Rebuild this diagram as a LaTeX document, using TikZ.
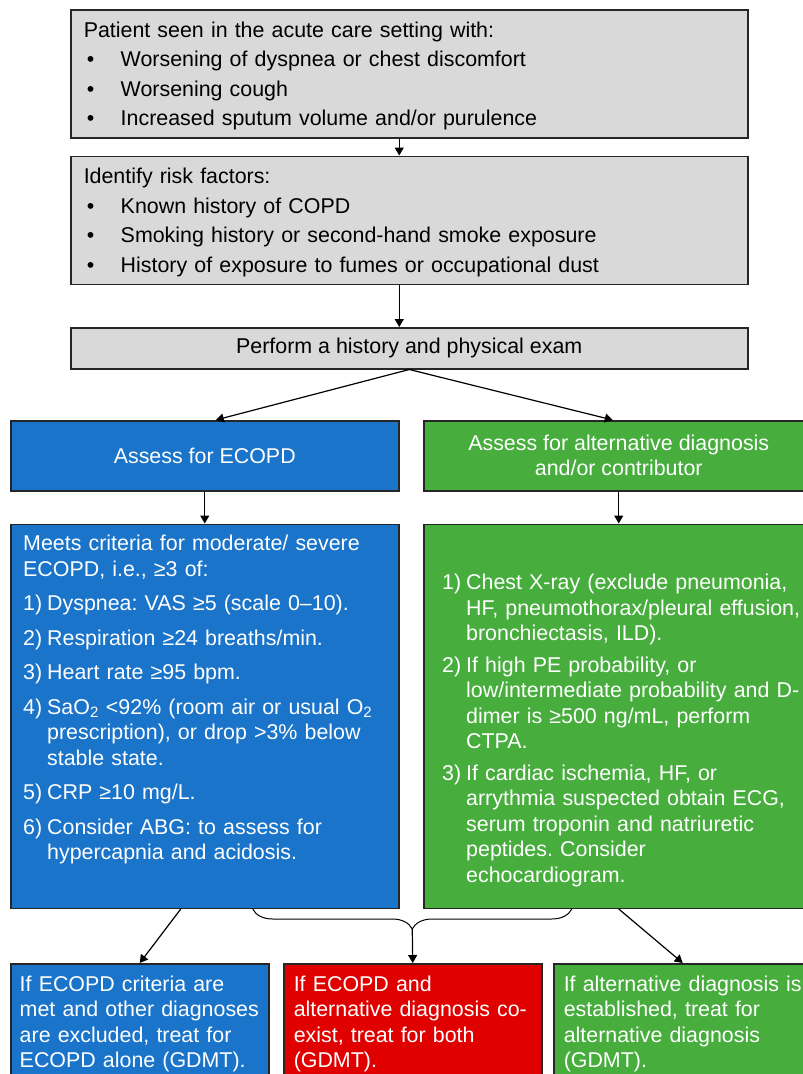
\documentclass[tikz,border=0pt]{standalone}
\usepackage{fontspec}
\setmainfont{Liberation Sans}
\usepackage{tikz}
\usetikzlibrary{positioning}
\usetikzlibrary{calc}
\usetikzlibrary{arrows.meta}
\usetikzlibrary{decorations.pathreplacing}

\definecolor{boxgrey}{RGB}{217,217,217}
\definecolor{ecopdblue}{RGB}{26,116,202}
\definecolor{altgreen}{RGB}{71,174,62}
\definecolor{bothred}{RGB}{224,0,0}

\newcommand{\bulletlbl}{\makebox[37pt][l]{\hspace*{3pt}\textbullet}}
\newcommand{\numlbl}[1]{\makebox[24pt][l]{#1}}
\newcommand{\numpad}{\hspace*{24pt}}
\frenchspacing
\hyphenpenalty=10000
\exhyphenpenalty=10000

\begin{document}
\begin{tikzpicture}[
	x=1pt, y=-1pt,
	box/.style={draw=black!85, line width=1.5pt, inner xsep=13pt, inner ysep=0pt},
	greybox/.style={box, fill=boxgrey, minimum width=677pt, font=\fontsize{21.4}{29.5}\selectfont},
	bluebox/.style={box, fill=ecopdblue, text=white},
	greenbox/.style={box, fill=altgreen, text=white},
	redbox/.style={box, fill=bothred, text=white},
	bodytext/.style={inner sep=0pt, align=left, text=white, font=\fontsize{21.4}{25.5}\selectfont},
	flow/.style={line width=1.2pt, -{Triangle[length=8pt,width=9pt]}}
]
\useasboundingbox (0,0) rectangle (803,1074);

\node[
	greybox,
	anchor=north west,
	minimum height=128pt,
	text width=651pt,
	align=left
] (present) at (70,9) {\rule{0pt}{20pt}Patient seen in the acute care setting with:\\
	\bulletlbl Worsening of dyspnea or chest discomfort\\
	\bulletlbl Worsening cough\\
	\bulletlbl Increased sputum volume and/or purulence};

\node[
	greybox,
	below=17pt of present,
	minimum height=128pt,
	text width=651pt,
	align=left
] (risk) {\rule{0pt}{20pt}Identify risk factors:\\
	\bulletlbl Known history of COPD\\
	\bulletlbl Smoking history or second-hand smoke exposure\\
	\bulletlbl History of exposure to fumes or occupational dust};

\node[
	greybox,
	below=42pt of risk,
	minimum height=41pt
] (exam) {Perform a history and physical exam};

\node[
	bluebox,
	anchor=north west,
	minimum width=388pt,
	minimum height=70pt,
	font=\fontsize{21.4}{25}\selectfont
] (assessA) at (10,420) {Assess for ECOPD};

\node[
	greenbox,
	anchor=north west,
	minimum width=390pt,
	minimum height=70pt,
	align=center,
	font=\fontsize{21.4}{25}\selectfont
] (assessB) at (423,420) {Assess for alternative diagnosis\\and/or contributor};

\node[
	bluebox,
	below=32pt of assessA,
	minimum width=388pt,
	minimum height=384pt
] (crit) {};

\node[
	greenbox,
	below=32pt of assessB,
	minimum width=390pt,
	minimum height=384pt
] (alt) {};

\node[bodytext, text width=362pt, anchor=north west] (critText)
	at ([shift={(13,11.4)}]crit.north west) {Meets criteria for moderate/ severe\\
	ECOPD, i.e., ≥3 of:\\[9pt]
	\numlbl{1)}Dyspnea: VAS ≥5 (scale 0–10).\\[9pt]
	\numlbl{2)}Respiration ≥24 breaths/min.\\[9pt]
	\numlbl{3)}Heart rate ≥95 bpm.\\[9pt]
	\numlbl{4)}SaO\textsubscript{2} <92\% (room air or usual O\textsubscript{2}\\
	\numpad prescription), or drop >3\% below\\
	\numpad stable state.\\[9pt]
	\numlbl{5)}CRP ≥10 mg/L.\\[9pt]
	\numlbl{6)}Consider ABG: to assess for\\
	\numpad hypercapnia and acidosis.};

\node[bodytext, text width=366pt, anchor=north west] (altText)
	at ([shift={(19,50.4)}]alt.north west) {\numlbl{1)}Chest X-ray (exclude pneumonia,\\
	\numpad HF, pneumothorax/pleural effusion,\\
	\numpad bronchiectasis, ILD).\\[6pt]
	\numlbl{2)}If high PE probability, or\\
	\numpad low/intermediate probability and D-\\
	\numpad dimer is ≥500 ng/mL, perform\\
	\numpad CTPA.\\[6pt]
	\numlbl{3)}If cardiac ischemia, HF, or\\
	\numpad arrythmia suspected obtain ECG,\\
	\numpad serum troponin and natriuretic\\
	\numpad peptides. Consider\\
	\numpad echocardiogram.};

\node[
	bluebox,
	anchor=north west,
	text width=240pt,
	inner xsep=9pt,
	inner ysep=12pt,
	align=left,
	font=\fontsize{21.4}{25.5}\selectfont
] (ecopdOnly) at (10,963) {If ECOPD criteria are\\
	met and other diagnoses\\
	are excluded, treat for\\
	ECOPD alone (GDMT).};

\node[
	redbox,
	anchor=north west,
	text width=238pt,
	inner xsep=10pt,
	inner ysep=12pt,
	align=left,
	font=\fontsize{21.4}{25.5}\selectfont
] (treatBoth) at (283,963) {If ECOPD and\\
	alternative diagnosis co-\\
	exist, treat for both\\
	(GDMT).};

\node[
	greenbox,
	anchor=north west,
	text width=238pt,
	inner xsep=10pt,
	inner ysep=12pt,
	align=left,
	font=\fontsize{21.4}{25.5}\selectfont
] (altOnly) at (553,963) {If alternative diagnosis is\\
	established, treat for\\
	alternative diagnosis\\
	(GDMT).};

\draw[flow] ([xshift=-10pt]present.south) -- ([xshift=-10pt]risk.north);
\draw[flow] ([xshift=-10pt]risk.south) -- ([xshift=-10pt]exam.north);
\draw[flow] (exam.south) -- ([xshift=11pt]assessA.north);
\draw[flow] (exam.south) -- ([xshift=-6pt]assessB.north);
\draw[flow] (assessA) -- (crit);
\draw[flow] (assessB) -- (alt);
\draw[flow] ([xshift=-24pt]crit.south) -- (ecopdOnly.north);
\draw[flow] (alt.south) -- (altOnly.north);

% brace joining both assessments
\coordinate (braceL) at ([xshift=48pt]crit.south);
\coordinate (braceR) at ([xshift=-47pt]alt.south);
\coordinate (braceTip) at ($(braceL)!0.5!(braceR)+(0,20)$);
\draw[line width=1pt, decorate, decoration={brace, mirror, amplitude=20pt}] (braceL) -- (braceR);
\draw[flow] (braceTip) -- (treatBoth.north);

\end{tikzpicture}
\end{document}
